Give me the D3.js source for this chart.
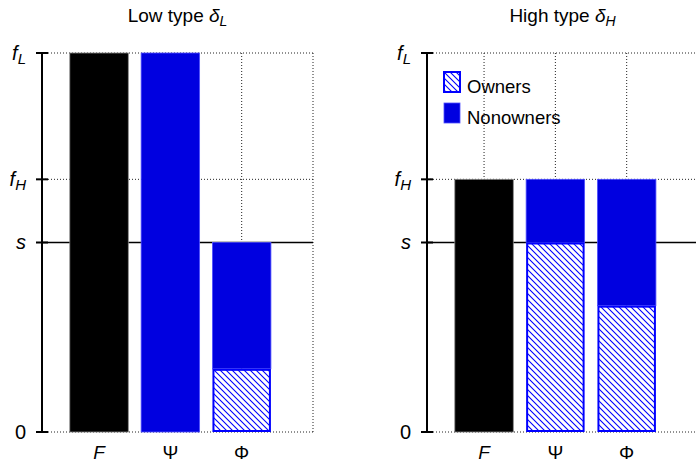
<!DOCTYPE html>
<html>
<head>
<meta charset="utf-8">
<script src="https://cdn.jsdelivr.net/npm/d3@7"></script>
<style>
  body { margin: 0; background: #fff; }
  svg { display: block; font-family: "Liberation Sans", Arial, Helvetica, sans-serif; }
</style>
</head>
<body>
<svg id="chart" width="696" height="464"></svg>
<script>
const categories = ['F', 'Ψ', 'Φ'];
const italicCats = ['F'];
const yTickValues = [0, 1/2, 2/3, 1];
const yTickLabels = [['0', ''], ['s', ''], ['f', 'H'], ['f', 'L']];
const lowOwners = [0, 0, 1/6];
const lowNonowners = [1, 1, 1/3];
const highOwners = [0, 1/2, 1/3];
const highNonowners = [2/3, 1/6, 1/3];
const legendLabels = ['Owners', 'Nonowners'];

const blue = '#0000e0';
const svg = d3.select('#chart');

// hatch for owners
svg.append('defs').append('pattern')
  .attr('id', 'hatch')
  .attr('patternUnits', 'userSpaceOnUse')
  .attr('width', 6).attr('height', 6)
  .call(p => p.append('rect').attr('width', 6).attr('height', 6).attr('fill', '#fff'))
  .append('path')
  .attr('d', 'M0,0L6,6M-1,5L1,7M5,-1L7,1')
  .attr('stroke', '#0000ff')
  .attr('stroke-width', 1.1);

const y = d3.scaleLinear().domain([0, 1]).range([432, 53]);

function drawPanel(x0, title, sub, owners, nonowners, withLegend) {
  const x = d3.scaleLinear().domain([0.2, 4]).range([x0, x0 + 271]);
  const g = svg.append('g');
  const xEnd = x(4);

  // title
  const t = g.append('text')
    .attr('x', x(2.1)).attr('y', 22)
    .attr('text-anchor', 'middle')
    .attr('font-size', 19);
  t.append('tspan').text(title + ' ');
  t.append('tspan').attr('font-style', 'italic').text('δ');
  t.append('tspan').attr('font-style', 'italic').attr('font-size', 14).attr('dy', 4).text(sub);

  // dotted grid
  [0, 2/3, 1].forEach(v => {
    g.append('line')
      .attr('x1', x0).attr('x2', xEnd)
      .attr('y1', y(v)).attr('y2', y(v))
      .attr('stroke', '#222').attr('stroke-width', 1)
      .attr('stroke-dasharray', '1,2');
  });
  [1, 2, 3, 4].forEach(c => {
    g.append('line')
      .attr('x1', x(c)).attr('x2', x(c))
      .attr('y1', y(1)).attr('y2', y(0))
      .attr('stroke', '#222').attr('stroke-width', 1)
      .attr('stroke-dasharray', '1,2');
  });

  // s line
  g.append('line')
    .attr('x1', x0).attr('x2', xEnd)
    .attr('y1', y(1/2)).attr('y2', y(1/2))
    .attr('stroke', '#000').attr('stroke-width', 1.6);

  // bars
  const bw = x(0.82) - x(0);
  categories.forEach((c, i) => {
    const cx = x(i + 1);
    if (c === 'F') {
      g.append('rect')
        .attr('x', cx - bw / 2).attr('y', y(nonowners[i]))
        .attr('width', bw).attr('height', y(0) - y(nonowners[i]))
        .attr('fill', '#000').attr('stroke', '#888').attr('stroke-width', 0.8);
      return;
    }
    const top = owners[i] + nonowners[i];
    if (nonowners[i] > 0) {
      g.append('rect')
        .attr('x', cx - bw / 2).attr('y', y(top))
        .attr('width', bw).attr('height', y(owners[i]) - y(top))
        .attr('fill', blue).attr('stroke', '#5050ff').attr('stroke-width', 0.8);
    }
    if (owners[i] > 0) {
      g.append('rect')
        .attr('x', cx - bw / 2 + 1).attr('y', y(owners[i]) + 1)
        .attr('width', bw - 2).attr('height', y(0) - y(owners[i]) - 2)
        .attr('fill', 'url(#hatch)').attr('stroke', '#0000ff').attr('stroke-width', 2);
    }
  });

  // y axis
  g.append('line')
    .attr('x1', x0).attr('x2', x0)
    .attr('y1', y(1)).attr('y2', y(0))
    .attr('stroke', '#000').attr('stroke-width', 2);
  yTickValues.forEach((v, i) => {
    g.append('line')
      .attr('x1', x0 - 6).attr('x2', x0 + 6)
      .attr('y1', y(v)).attr('y2', y(v))
      .attr('stroke', '#000').attr('stroke-width', 2);
    const [main, s] = yTickLabels[i];
    const lab = g.append('text')
      .attr('x', x0 - 16).attr('y', y(v) + 6.5)
      .attr('text-anchor', 'end')
      .attr('font-size', 20);
    lab.append('tspan').attr('font-style', main === '0' ? 'normal' : 'italic').text(main);
    if (s) lab.append('tspan').attr('font-style', 'italic').attr('font-size', 15).attr('dy', 4).text(s);
  });

  // x labels
  categories.forEach((c, i) => {
    g.append('text')
      .attr('x', x(i + 1)).attr('y', 459)
      .attr('text-anchor', 'middle')
      .attr('font-size', 19)
      .attr('font-style', italicCats.includes(c) ? 'italic' : 'normal')
      .text(c);
  });

  if (withLegend) {
    const lx = x0 + 16, ly = y(1) + 18;
    legendLabels.forEach((name, i) => {
      const yy = ly + i * 31;
      g.append('rect')
        .attr('x', lx + 1).attr('y', yy + 1)
        .attr('width', 16).attr('height', 20)
        .attr('fill', i === 0 ? 'url(#hatch)' : blue)
        .attr('stroke', i === 0 ? '#0000ff' : '#5050ff')
        .attr('stroke-width', i === 0 ? 2 : 0.8);
      g.append('text')
        .attr('x', lx + 24).attr('y', yy + 22)
        .attr('font-size', 18.5)
        .text(name);
    });
  }
}

drawPanel(42, 'Low type', 'L', lowOwners, lowNonowners, false);
drawPanel(427, 'High type', 'H', highOwners, highNonowners, true);
</script>
</body>
</html>
